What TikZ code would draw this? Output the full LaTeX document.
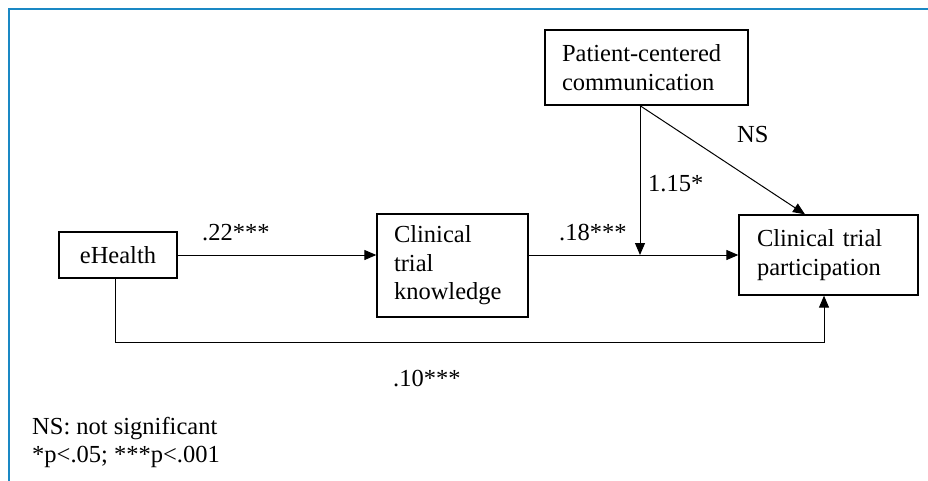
\documentclass[tikz,border=0pt]{standalone}
\usepackage{fontspec}
\setmainfont{Liberation Serif}
\usepackage{tikz}
\usetikzlibrary{positioning, calc, arrows.meta}
\definecolor{frameBlue}{RGB}{26,136,196}
\newcommand{\bigText}{\fontsize{24.5}{28.5}\selectfont}
\tikzstyle{box}=[draw, line width=1.3pt, inner sep=0pt, font=\bigText]
\tikzstyle{textBox}=[box, align=left, inner xsep=17pt]
\tikzstyle{coef}=[inner sep=0pt, anchor=base west, font=\bigText]
\tikzstyle{pathArrow}=[-{Triangle[length=12pt, width=10pt]}, line width=1pt]
\tikzstyle{pathLine}=[line width=1pt]

\begin{document}
\begin{tikzpicture}[x=1pt, y=-1pt]
      \useasboundingbox (0,0) rectangle (928,481);
      \draw[frameBlue, line width=2pt] (9,481) -- (9,8.7) -- (928,8.7);

      \node[box, minimum width=118pt, minimum height=46pt] (eHealth) at (118,255) {eHealth};
      \node[textBox, text width=117pt, minimum height=103pt] (knowledge) at (452.5,265.5) {Clinical\\trial\\knowledge};
      \node[textBox, text width=169pt, minimum height=75pt] (comm) at (646.5,67.5) {Patient-centered\\communication};
      \node[textBox, text width=143pt, inner xsep=18pt, minimum height=80pt] (participation) at (828.5,255) {Clinical trial\\participation};

      \coordinate (commFoot) at ($(comm.south)+(-6.5,0)$);
      \coordinate (modPoint) at (commFoot |- participation.west);
      \coordinate (nsTip) at ($(participation.north)+(-23.5,0)$);
      \coordinate (directStart) at ($(eHealth.south)+(-3,0)$);
      \coordinate (directEnd) at ($(participation.south)+(-4.5,0)$);
      \coordinate (directCorner) at (directStart |- 0,342);

      % paths
      \draw[pathArrow] (eHealth.east) -- (eHealth.east -| knowledge.west);
      \draw[pathArrow] (knowledge.east |- participation.west) -- (participation.west);
      \draw[pathArrow] (commFoot) -- (modPoint);
      \draw[pathArrow] (commFoot) -- (nsTip);
      \draw[pathArrow] (directStart) -- (directCorner) -| (directEnd);

      % coefficients
      \node[coef] (coefA) at (202,240) {.22***};
      \node[coef] (coefB) at (559,240) {.18***};
      \node[coef] (coefMod) at (648,192) {1.15*};
      \node[coef] (coefNS) at (737,143) {NS};
      \node[coef] (coefC) at (393,386) {.10***};

      % legend
      \node[coef] (legendA) at (32,434) {NS: not significant};
      \node[coef] (legendB) at (32,462) {*p<.05; ***p<.001};
\end{tikzpicture}
\end{document}
